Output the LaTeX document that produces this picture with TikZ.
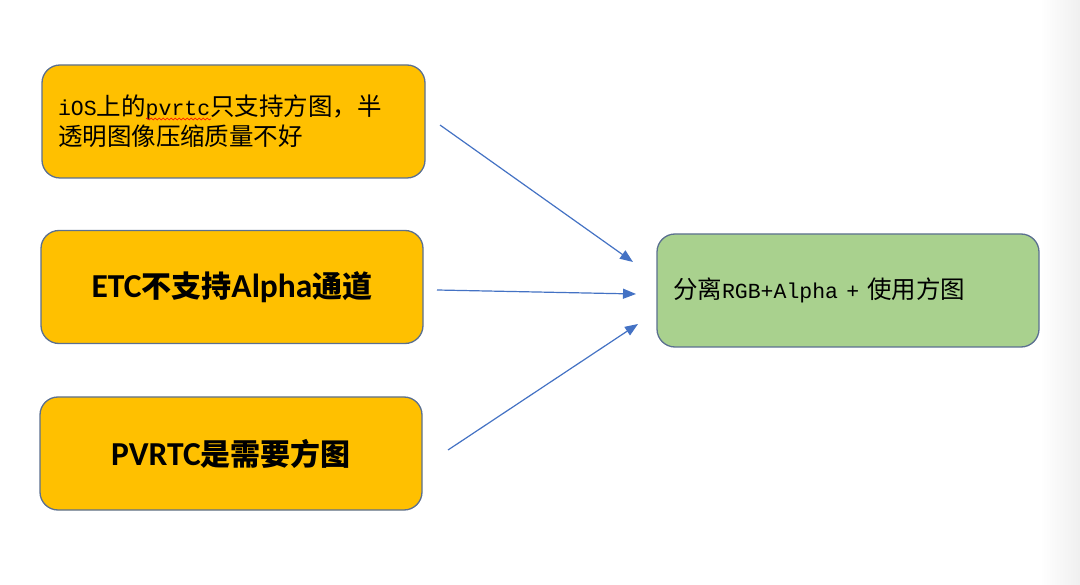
\documentclass[tikz,border=0pt]{standalone}
\usepackage{fontspec}
\newfontfamily\cjk{Noto Sans CJK SC}
\newfontfamily\monof{Liberation Mono}
\newfontfamily\carl{Carlito}
\usetikzlibrary{arrows.meta,decorations.pathmorphing}
\definecolor{boxorange}{HTML}{FFC000}
\definecolor{boxgreen}{HTML}{A9D18E}
\definecolor{boxline}{HTML}{5B7090}
\definecolor{arrowblue}{HTML}{4472C4}
\tikzset{
  card/.style={draw=boxline, line width=1.3pt, rounded corners=18pt,
    minimum width=382pt, minimum height=113pt, inner xsep=16pt, inner ysep=0pt},
  yellowcard/.style={card, fill=boxorange},
  greencard/.style={card, fill=boxgreen},
  link/.style={draw=arrowblue, line width=1.2pt, -{Triangle[length=13pt,width=10pt]}},
  cn/.style={font=\cjk\fontsize{24.5}{30}\selectfont},
  cnbold/.style={font=\cjk\bfseries\fontsize{30}{34}\selectfont}
}
\newcommand{\lm}[1]{{\monof\fontsize{21.5}{30}\selectfont #1}}
\newcommand{\lb}[1]{{\carl\bfseries\fontsize{33.5}{34}\selectfont #1}}
\begin{document}
\begin{tikzpicture}[x=1pt,y=-1pt]
\useasboundingbox (0,0) rectangle (1080,585);
\fill[white] (0,0) rectangle (1080,585);
\shade[left color=white, right color=black!6, draw=none] (1040,0) rectangle (1080,585);

\node[yellowcard, cn, text width=351pt, align=left] (b1) at (233.5,121.5)
  {\lm{iOS}上的\lm{pvrtc}只支持方图，半\\透明图像压缩质量不好};
\node[yellowcard, cnbold] (b2) at (232,287)
  {\lb{ETC}不支持\lb{Alpha}通道};
\node[yellowcard, cnbold] (b3) at (231,453.5)
  {\lb{PVRTC}是需要方图};
\node[greencard, cn, text width=350pt, align=left] (g) at (848,290.5)
  {分离\lm{RGB+Alpha + }使用方图};

\draw[red, line width=0.6pt, decorate, decoration={snake, amplitude=1pt, segment length=4pt}]
  (146,119) -- (211,119);

\coordinate (s1) at (440,125);
\coordinate (e1) at (633,262);
\coordinate (s2) at (437,290);
\coordinate (e2) at (636,294);
\coordinate (s3) at (448,450);
\coordinate (e3) at (638,324);
\draw[link] (s1) -- (e1);
\draw[link] (s2) -- (e2);
\draw[link] (s3) -- (e3);
\end{tikzpicture}
\end{document}
